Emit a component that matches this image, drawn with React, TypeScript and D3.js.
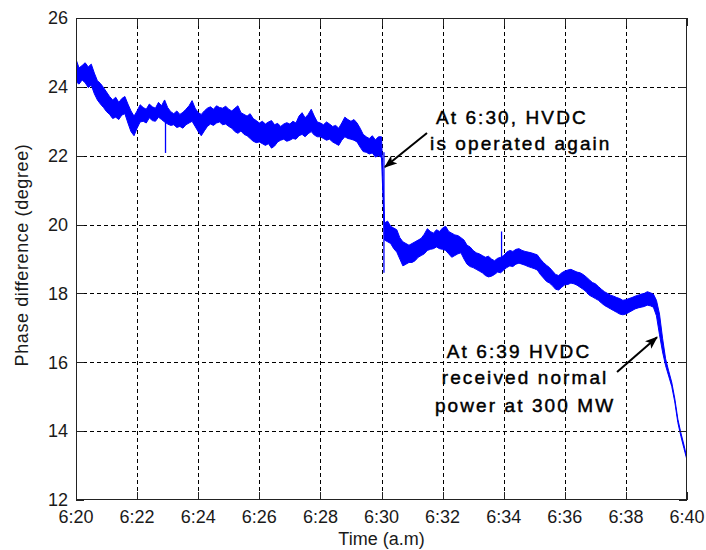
import React from 'react';
import * as d3 from 'd3';

const W = 706;
const H = 550;
const margin = { left: 76, right: 19, top: 18, bottom: 50 };

// Phase difference trace, one sample every 0.1 min starting at 6:20.
// The measurement is noisy, so each sample keeps the upper and lower edge of the trace.
const sampleStepMin = 0.1;

const phaseHigh = [
  24.80, 24.55, 24.62, 24.70, 24.58, 24.66, 24.40, 24.18, 24.10, 23.98,
  23.85, 23.72, 23.62, 23.70, 23.55, 23.66, 23.72, 23.50, 23.30, 23.15,
  23.30, 23.48, 23.40, 23.35, 23.50, 23.42, 23.38, 23.55, 23.45, 23.62,
  23.40, 23.28, 23.22, 23.30, 23.20, 23.26, 23.35, 23.45, 23.60, 23.38,
  23.25, 23.20, 23.30, 23.38, 23.42, 23.35, 23.45, 23.40, 23.38, 23.44,
  23.35, 23.30, 23.38, 23.45, 23.25, 23.20, 23.15, 23.22, 23.08, 23.02,
  22.95, 23.00, 22.92, 22.98, 23.02, 22.90, 22.94, 22.85, 22.92, 22.96,
  22.92, 23.00, 22.95, 23.15, 23.25, 23.10, 23.20, 23.35, 23.15, 22.98,
  22.95, 22.90, 22.98, 22.92, 22.85, 22.88, 22.80, 22.95, 23.12, 23.05,
  23.00, 23.05, 22.95, 22.80, 22.62, 22.55, 22.50, 22.58, 22.46, 22.55,
  22.55, 20.05, 20.10, 19.95, 19.90, 19.85, 19.62, 19.50, 19.45, 19.40,
  19.45, 19.50, 19.55, 19.60, 19.72, 19.88, 19.80, 19.75, 19.85, 19.80,
  19.90, 19.95, 19.80, 19.75, 19.70, 19.68, 19.62, 19.55, 19.40, 19.35,
  19.25, 19.18, 19.15, 19.10, 19.05, 19.08, 19.00, 18.95, 19.02, 19.05,
  19.10, 19.20, 19.25, 19.22, 19.28, 19.30, 19.25, 19.22, 19.20, 19.18,
  19.15, 19.12, 19.00, 18.90, 18.82, 18.75, 18.65, 18.55, 18.52, 18.60,
  18.65, 18.68, 18.70, 18.66, 18.62, 18.60, 18.55, 18.48, 18.40, 18.32,
  18.28, 18.20, 18.12, 18.05, 18.00, 17.95, 17.92, 17.88, 17.85, 17.80,
  17.82, 17.85, 17.88, 17.92, 17.95, 17.98, 18.00, 18.05, 18.02, 17.98,
  17.80, 17.40, 16.70, 16.10, 15.75, 15.42, 14.95, 14.35, 13.95, 13.60, 13.20,
];

const phaseLow = [
  24.15, 24.08, 24.20, 24.12, 23.98, 24.05, 23.80, 23.62, 23.50, 23.40,
  23.28, 23.20, 23.08, 23.12, 23.05, 23.18, 23.22, 22.95, 22.70, 22.58,
  22.80, 22.98, 23.00, 22.95, 23.10, 23.02, 23.00, 23.12, 23.05, 22.98,
  22.92, 22.88, 22.90, 22.82, 22.85, 22.80, 22.90, 22.95, 23.00, 22.85,
  22.70, 22.58, 22.72, 22.85, 22.92, 22.88, 22.95, 22.98, 22.90, 22.92,
  22.85, 22.80, 22.70, 22.65, 22.72, 22.62, 22.58, 22.50, 22.42, 22.38,
  22.40, 22.35, 22.30, 22.35, 22.22, 22.28, 22.40, 22.45, 22.48, 22.42,
  22.45, 22.50, 22.48, 22.58, 22.62, 22.55, 22.64, 22.70, 22.60, 22.55,
  22.55, 22.50, 22.45, 22.48, 22.40, 22.35, 22.30, 22.45, 22.55, 22.50,
  22.48, 22.45, 22.40, 22.25, 22.12, 22.10, 22.05, 22.08, 21.96, 22.00,
  21.95, 19.55, 19.50, 19.45, 19.30, 19.20, 19.00, 18.80, 18.85, 18.90,
  18.90, 18.95, 19.05, 19.10, 19.15, 19.25, 19.28, 19.30, 19.35, 19.30,
  19.28, 19.25, 19.15, 19.05, 19.10, 19.15, 19.18, 19.00, 18.85, 18.78,
  18.75, 18.70, 18.65, 18.60, 18.52, 18.48, 18.50, 18.55, 18.62, 18.60,
  18.68, 18.75, 18.80, 18.78, 18.85, 18.88, 18.85, 18.82, 18.78, 18.75,
  18.72, 18.68, 18.55, 18.45, 18.35, 18.30, 18.22, 18.12, 18.10, 18.18,
  18.25, 18.26, 18.30, 18.28, 18.24, 18.18, 18.12, 18.05, 17.95, 17.90,
  17.85, 17.80, 17.72, 17.65, 17.60, 17.55, 17.50, 17.45, 17.40, 17.38,
  17.40, 17.45, 17.50, 17.55, 17.58, 17.60, 17.62, 17.66, 17.64, 17.60,
  17.35, 16.80, 16.30, 15.90, 15.60, 15.30, 14.85, 14.25, 13.85, 13.50, 13.16,
];

// Short isolated excursions of the trace: minute after 6:20, low, high
const spikeMinutes = [2.93, 10.08, 13.93];
const spikeLow = [22.08, 18.6, 18.9];
const spikeHigh = [23.3, 22.1, 19.8];

const timeTicks = [0, 2, 4, 6, 8, 10, 12, 14, 16, 18, 20];
const timeTickLabels = ['6:20', '6:22', '6:24', '6:26', '6:28', '6:30', '6:32', '6:34', '6:36', '6:38', '6:40'];
const phaseTicks = [12, 14, 16, 18, 20, 22, 24, 26];

const FONT = "'Liberation Sans', Arial, Helvetica, sans-serif";

export default function App() {
  const x = d3.scaleLinear().domain([0, 20]).range([margin.left, W - margin.right]);
  const y = d3.scaleLinear().domain([12, 26]).range([H - margin.bottom, margin.top]);

  const samples = phaseHigh.map((hi, i) => ({ t: i * sampleStepMin, hi, lo: phaseLow[i] }));
  const band = d3
    .area<{ t: number; hi: number; lo: number }>()
    .x((d) => x(d.t))
    .y0((d) => y(d.lo))
    .y1((d) => y(d.hi));

  const x0 = x(0), x1 = x(20), y0 = y(12), y1 = y(26);
  const tickLen = 8;

  const noteStyle: React.CSSProperties = {
    fontFamily: FONT,
    fontSize: 19,
    letterSpacing: 2.1,
    stroke: '#000',
    strokeWidth: 0.45,
  };

  return (
    <svg
      width={W}
      height={H}
      style={{ position: 'absolute', left: 0, top: 0, display: 'block', background: '#fff' }}
    >
      <defs>
        <marker id="head" markerUnits="userSpaceOnUse" markerWidth={14} markerHeight={10} refX={12} refY={5} orient="auto">
          <path d="M0,0 L13,5 L0,10 L3,5 z" fill="#000" />
        </marker>
        <clipPath id="plot">
          <rect x={x0} y={y1} width={x1 - x0} height={y0 - y1} />
        </clipPath>
      </defs>

      {/* dashed grid */}
      <g stroke="#000" strokeWidth={1} strokeDasharray="4,3" shapeRendering="crispEdges">
        {timeTicks.slice(1, -1).map((t) => (
          <line key={'gx' + t} x1={Math.round(x(t)) + 0.5} x2={Math.round(x(t)) + 0.5} y1={y1} y2={y0} />
        ))}
        {phaseTicks.slice(1, -1).map((v) => (
          <line key={'gy' + v} x1={x0} x2={x1} y1={Math.round(y(v)) + 0.5} y2={Math.round(y(v)) + 0.5} />
        ))}
      </g>

      {/* trace */}
      <g clipPath="url(#plot)">
        <path d={band(samples) ?? ''} fill="#0000ff" stroke="#0000ff" strokeWidth={1} strokeLinejoin="miter" />
        {spikeMinutes.map((t, i) => (
          <line key={'sp' + i} x1={x(t)} x2={x(t)} y1={y(spikeLow[i])} y2={y(spikeHigh[i])} stroke="#0000ff" strokeWidth={1.3} />
        ))}
      </g>

      {/* frame and inward ticks */}
      <g stroke="#222" strokeWidth={1} fill="none" shapeRendering="crispEdges">
        <rect x={x0 + 0.5} y={y1 + 0.5} width={x1 - x0 - 1} height={y0 - y1 - 1} />
        {timeTicks.map((t) => (
          <g key={'tx' + t}>
            <line x1={Math.round(x(t)) + 0.5} x2={Math.round(x(t)) + 0.5} y1={y0} y2={y0 - tickLen} />
            <line x1={Math.round(x(t)) + 0.5} x2={Math.round(x(t)) + 0.5} y1={y1} y2={y1 + tickLen} />
          </g>
        ))}
        {phaseTicks.map((v) => (
          <g key={'ty' + v}>
            <line x1={x0} x2={x0 + tickLen} y1={Math.round(y(v)) + 0.5} y2={Math.round(y(v)) + 0.5} />
            <line x1={x1} x2={x1 - tickLen} y1={Math.round(y(v)) + 0.5} y2={Math.round(y(v)) + 0.5} />
          </g>
        ))}
      </g>

      {/* tick labels */}
      <g fontFamily={FONT} fontSize={18} fill="#1a1a1a">
        {timeTicks.map((t, i) => (
          <text key={'lx' + t} x={x(t)} y={y0 + 23} textAnchor="middle">
            {timeTickLabels[i]}
          </text>
        ))}
        {phaseTicks.map((v) => (
          <text key={'ly' + v} x={x0 - 8} y={y(v)} dy="0.35em" textAnchor="end">
            {v}
          </text>
        ))}
      </g>

      {/* axis titles */}
      <text x={(x0 + x1) / 2} y={545} textAnchor="middle" fontFamily={FONT} fontSize={18} fill="#1a1a1a">
        Time (a.m)
      </text>
      <text
        transform={`translate(28,${(y0 + y1) / 2 - 4}) rotate(-90)`}
        textAnchor="middle"
        fontFamily={FONT}
        fontSize={18}
        letterSpacing={0.6}
        fill="#1a1a1a"
      >
        Phase difference (degree)
      </text>

      {/* annotations */}
      <line x1={x(11.49)} y1={y(22.66)} x2={x(10.11)} y2={y(21.67)} stroke="#000" strokeWidth={2} markerEnd="url(#head)" />
      <text x={x(11.78)} y={y(22.91)} style={noteStyle}>At 6:30, HVDC</text>
      <text x={x(11.59)} y={y(22.18)} style={noteStyle}>is operated again</text>

      <line x1={x(17.71)} y1={y(15.72)} x2={x(19.02)} y2={y(16.73)} stroke="#000" strokeWidth={2} markerEnd="url(#head)" />
      <g style={noteStyle} textAnchor="middle">
        <text x={x(14.5)} y={y(16.11)}>At 6:39 HVDC</text>
        <text x={x(14.7)} y={y(15.36)}>received normal</text>
        <text x={x(14.7)} y={y(14.57)}>power at 300 MW</text>
      </g>
    </svg>
  );
}
